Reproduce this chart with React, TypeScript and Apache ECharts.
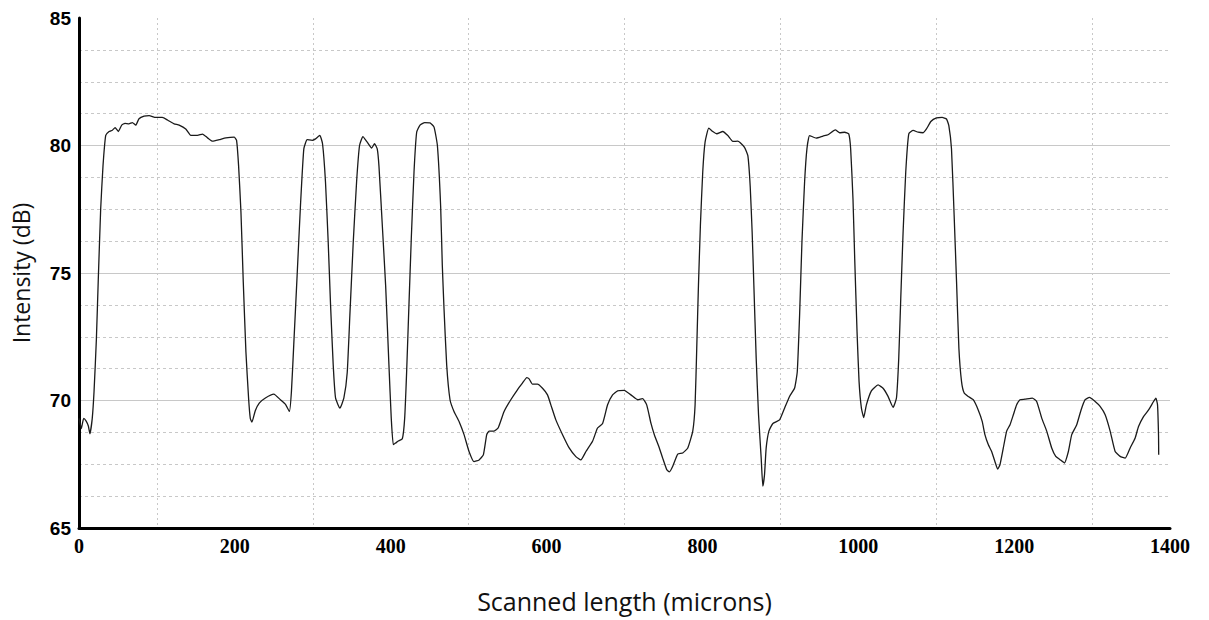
import React, { useEffect, useRef } from "react";
import * as echarts from "echarts";

const scanX = [
  0, 3, 6, 9, 12, 14, 17, 19.3, 22.3, 24.8, 27.8, 30.8, 34.3, 38.6, 42.8, 46.3, 50.5, 54.8, 59, 64, 68.5, 72.8, 77, 83.5, 90, 98.5, 107, 113.5, 122, 128.5, 137, 143.5, 152, 158.5, 165, 171.4, 180, 188.5, 199.2, 202.2, 204.8, 207.8, 210.8, 214.2, 217.6, 219.8, 221.9, 226.2, 231.3,
  239.2, 250, 258.5, 265, 270, 272.6, 275.6, 279.9, 284.2, 288.5, 292.8, 299.2, 303.5, 309, 312.5, 316.3, 319.8, 322.8, 326.2, 329.2, 334.8, 339.9, 344.2, 347.6, 351.9, 356.2, 360, 364.3, 369.9, 375.5, 379.3, 382.7, 384.9, 389.2, 393.5, 397.7, 400.7, 403.3, 406.3, 409.3, 414.9, 417.9, 420.4, 423.4, 426.4, 429.9, 433.3, 437.6, 443.6, 450.4, 455.6, 459.9, 464.1,
  466.2, 468.4, 471.8, 476.1, 481.2, 487.7, 494.1, 500.5, 506.9, 513.4, 518.9, 523.2, 526.2, 532.6, 537.8, 545.5, 554.1, 562.6, 569, 574.6, 577.6, 581.9, 588.3, 594.8, 601.2, 605.5, 611.9, 620.5, 629, 637.6, 644, 650.5, 659, 665.4, 671.9, 678.3, 684.7, 691.2, 699.7,
  708.3, 716.9, 723.3, 728.5, 734, 738.3, 744.7, 749, 754.2, 757.6, 761.9, 768.3, 774.7, 781.2, 787.6, 790.6, 792.7, 794.9, 797.4, 800.4, 803.4, 808.1, 813.3, 818.4, 826.1, 832.6, 839, 845.4, 854, 858.3, 861.3, 863.8, 866, 869, 872, 875.4, 877.5, 879.7, 881.8, 885.3, 890.4, 899, 905.4, 911.8, 918.2, 921.7, 924.7, 927.7, 931.1, 934.1, 937.5,
  946.1, 954.7, 961.1, 970.5, 976.1, 982.5, 987.7, 990.2, 993.2, 995.4, 998.4, 1001, 1004, 1007, 1010.4, 1016.8, 1025.4, 1031.8, 1038.2, 1044.7, 1049, 1051.9, 1054.5, 1057.5, 1060.9, 1064.8, 1070.4, 1076.8, 1083.2, 1087.5, 1093.1, 1100.4, 1107.6, 1113.2, 1116.2, 1119.6, 1123, 1126.1, 1129.1, 1132.5, 1135.9, 1141.1, 1147.5, 1153.9, 1159, 1162.5, 1166.8, 1171.1,
  1175.4, 1178.8, 1181.8, 1186.1, 1190.4, 1194.7, 1199, 1203.2, 1207.5, 1213.9, 1223.4, 1228.9, 1235.4, 1241.8, 1248.2, 1253.4, 1258.9, 1264.5, 1269.6, 1273.9, 1280.3, 1285.9, 1291.1, 1296.6, 1303.9, 1310.3, 1316.8, 1323.2, 1329.6, 1336, 1342.5, 1348.9, 1355.3, 1359.6, 1366, 1372.5, 1378.9, 1381.9, 1384, 1385.3, 1385.5,
];

const intensity = [
  69.3, 68.9, 69.3, 69.2, 69.0, 68.7, 69.3, 70.35, 72.4, 74.8, 77.5, 79.2, 80.4, 80.55, 80.6, 80.7, 80.55, 80.8, 80.87, 80.85, 80.9, 80.8, 81.05, 81.15, 81.17, 81.1, 81.1, 81.0, 80.85, 80.8, 80.65, 80.4, 80.4, 80.45, 80.3, 80.17, 80.23, 80.3, 80.33, 80.2, 79.2, 77.4, 74.65, 71.9, 70.1, 69.3, 69.15, 69.6, 69.9,
  70.1, 70.25, 70.03, 69.85, 69.57, 70.35, 72.2, 74.9, 77.65, 79.87, 80.23, 80.2, 80.26, 80.4, 80.07, 78.57, 76.2, 73.75, 71.4, 70.1, 69.7, 70.1, 71.1, 73.35, 76.2, 78.57, 80.0, 80.35, 80.13, 79.9, 80.07, 79.87, 79.2, 76.87, 74.5, 71.4, 69.3, 68.27, 68.33, 68.4, 68.5, 69.3, 71.1, 73.75, 76.35, 78.96, 80.52, 80.8, 80.9, 80.89, 80.72, 80.0, 77.6,
  75.3, 73.6, 71.4, 70.03, 69.57, 69.18, 68.66, 68.0, 67.6, 67.67, 67.87, 68.66, 68.8, 68.8, 68.92, 69.57, 70.03, 70.42, 70.68, 70.9, 70.85, 70.64, 70.64, 70.48, 70.22, 69.83, 69.24, 68.66, 68.14, 67.8, 67.67, 68.0, 68.4, 68.92, 69.1, 69.83, 70.22, 70.38, 70.4,
  70.22, 70.03, 70.07, 69.83, 69.1, 68.66, 68.14, 67.74, 67.29, 67.2, 67.42, 67.9, 67.94, 68.14, 68.8, 69.83, 72.05, 74.52, 76.87, 78.96, 80.13, 80.68, 80.55, 80.46, 80.55, 80.39, 80.16, 80.17, 79.93, 79.6, 78.4, 76.6, 74.52, 71.65, 69.44, 67.74, 66.64, 67.1, 68.14, 68.8, 69.1, 69.24, 69.7, 70.16, 70.48, 71.13, 73.35, 76.22, 78.57, 79.87, 80.39,
  80.29, 80.37, 80.42, 80.61, 80.5, 80.52, 80.46, 79.87, 77.9, 75.57, 72.7, 70.74, 69.7, 69.33, 69.83, 70.38, 70.61, 70.48, 70.16, 69.73, 70.1, 71.65, 74.0, 76.6, 78.96, 80.46, 80.59, 80.52, 80.5, 80.65, 80.94, 81.08, 81.1, 81.04, 80.78, 79.87, 77.26, 74.65, 72.05, 70.74, 70.29, 70.16, 70.03, 69.63, 69.18, 68.66, 68.27, 68.0,
  67.6, 67.31, 67.48, 68.14, 68.8, 69.05, 69.44, 69.83, 70.03, 70.05, 70.09, 69.96, 69.31, 68.8, 68.14, 67.81, 67.68, 67.55, 68.0, 68.66, 69.05, 69.63, 70.03, 70.12, 69.96, 69.77, 69.44, 68.8, 68.0, 67.81, 67.74, 68.14, 68.53, 68.98, 69.37, 69.63, 69.96, 70.09, 69.83, 68.6, 67.87,
];

const xTitle = "Scanned length (microns)";
const yTitle = "Intensity (dB)";

export default function App() {
  const ref = useRef<HTMLDivElement>(null);
  useEffect(() => {
    if (!ref.current) return;
    const chart = echarts.init(ref.current, undefined, { renderer: "svg" });
    const data = scanX.map((x, i) => [x, intensity[i]]);
    chart.setOption({
      animation: false,
      backgroundColor: "#ffffff",
      grid: { left: 79, right: 39, top: 18, bottom: 92, containLabel: false },
      xAxis: {
        type: "value",
        min: 0,
        max: 1400,
        interval: 200,
        name: xTitle,
        nameLocation: "middle",
        nameGap: 60,
        nameTextStyle: { fontFamily: "Open Sans", fontSize: 25, color: "#111" },
        axisLine: { show: true, onZero: false, lineStyle: { color: "#000", width: 3 } },
        axisTick: { show: false },
        axisLabel: {
          margin: 8,
          fontFamily: "Liberation Serif",
          fontWeight: "bold",
          fontSize: 20,
          color: "#000",
          formatter: (v: number) => String(v),
        },
        splitLine: { show: false },
        minorTick: { show: false, splitNumber: 2 },
        minorSplitLine: { show: true, lineStyle: { color: "#c8c8c8", type: [2, 3], width: 1 } },
      },
      yAxis: {
        type: "value",
        min: 65,
        max: 85,
        interval: 5,
        name: yTitle,
        nameLocation: "middle",
        nameGap: 47,
        nameTextStyle: { fontFamily: "Open Sans", fontSize: 23, color: "#111" },
        axisLine: { show: true, lineStyle: { color: "#000", width: 3 } },
        axisTick: { show: false },
        axisLabel: {
          margin: 8,
          fontFamily: "Liberation Sans",
          fontWeight: "bold",
          fontSize: 19,
          color: "#000",
          formatter: (v: number) => String(v),
        },
        splitLine: {
          show: true,
          lineStyle: { color: ["#c8c8c8", "#c8c8c8", "#c8c8c8", "#c8c8c8", "rgba(0,0,0,0)"], width: 1 },
        },
        minorTick: { show: false, splitNumber: 4 },
        minorSplitLine: { show: true, lineStyle: { color: "#c8c8c8", type: [3, 3], width: 1 } },
      },
      series: [
        {
          type: "line",
          data,
          showSymbol: false,
          symbol: "none",
          smooth: 0.15,
          lineStyle: { color: "#1a1a1a", width: 1.3 },
          z: 5,
        },
      ],
    });
    return () => chart.dispose();
  }, []);
  return (
    <div
      ref={ref}
      style={{ position: "fixed", left: 0, top: 0, width: 1209, height: 620, background: "#fff" }}
    />
  );
}
